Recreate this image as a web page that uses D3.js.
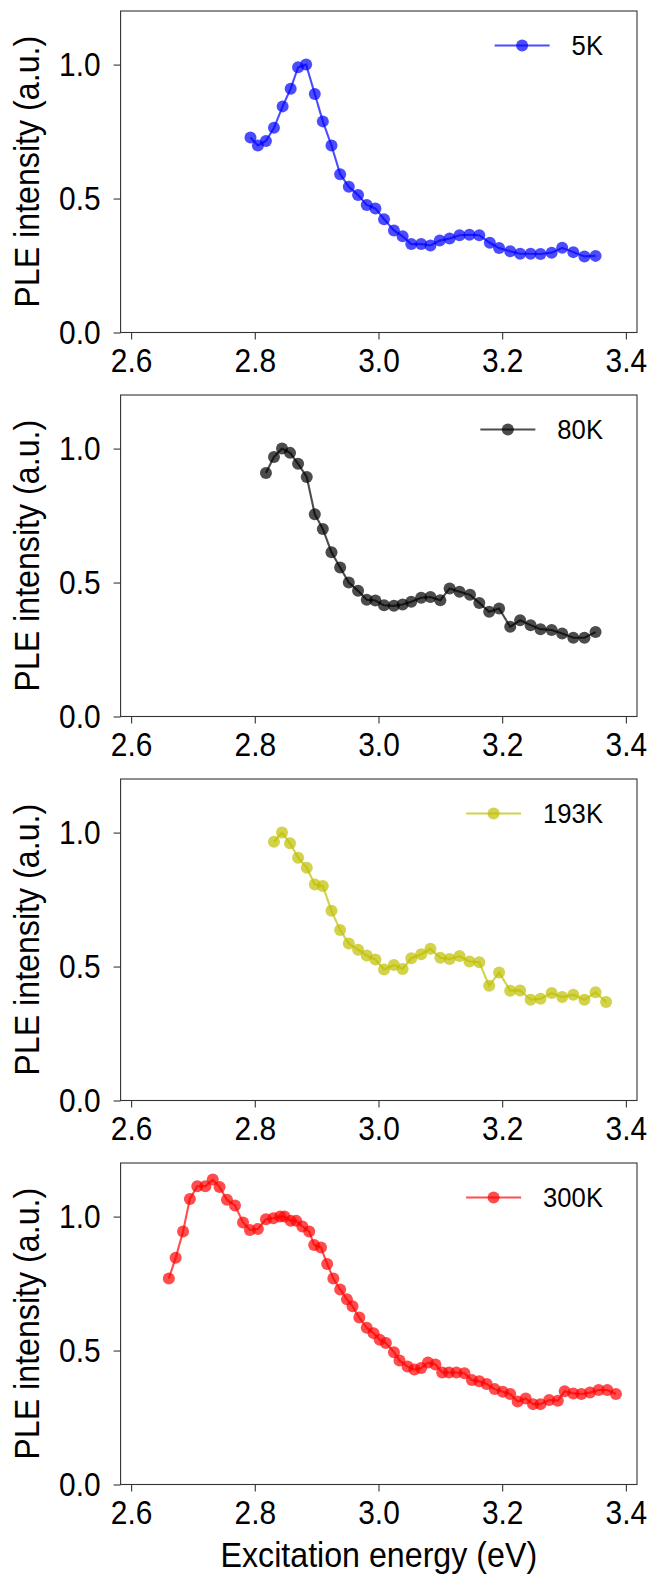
<!DOCTYPE html>
<html>
<head>
<meta charset="utf-8">
<script src="https://cdn.jsdelivr.net/npm/d3@7"></script>
<style>
  body { margin: 0; background: #fff; }
  svg { display: block; }
  text { font-family: "Liberation Sans", Arial, sans-serif; fill: #000; }
</style>
</head>
<body>
<svg width="648" height="1576"></svg>
<script>
// PLE spectra at four temperatures
const xTicks = [2.6, 2.8, 3.0, 3.2, 3.4];
const yTicks = [0.0, 0.5, 1.0];

const x5K = [2.793, 2.805, 2.818, 2.831, 2.845, 2.858, 2.870, 2.883, 2.897, 2.910, 2.924, 2.938, 2.952, 2.967,
  2.981, 2.995, 3.009, 3.025, 3.039, 3.053, 3.069, 3.084, 3.099, 3.115, 3.131, 3.147, 3.163, 3.180,
  3.195, 3.213, 3.229, 3.246, 3.262, 3.280, 3.297, 3.315, 3.333, 3.351];
const y5K = [0.728, 0.698, 0.715, 0.764, 0.844, 0.910, 0.990, 1.000, 0.890, 0.788, 0.698, 0.591, 0.544, 0.513,
  0.476, 0.463, 0.423, 0.381, 0.359, 0.330, 0.330, 0.325, 0.343, 0.351, 0.363, 0.365, 0.363, 0.335,
  0.315, 0.303, 0.294, 0.294, 0.293, 0.298, 0.316, 0.300, 0.284, 0.286];

const x80K = [2.818, 2.831, 2.844, 2.857, 2.870, 2.884, 2.897, 2.910, 2.924, 2.938, 2.952, 2.967, 2.981, 2.995,
  3.009, 3.025, 3.039, 3.053, 3.069, 3.084, 3.100, 3.115, 3.131, 3.148, 3.163, 3.179, 3.195, 3.213,
  3.229, 3.246, 3.262, 3.280, 3.297, 3.315, 3.333, 3.351];
const y80K = [0.909, 0.969, 1.000, 0.984, 0.943, 0.894, 0.755, 0.700, 0.613, 0.556, 0.500, 0.469, 0.436, 0.433,
  0.415, 0.413, 0.418, 0.428, 0.443, 0.446, 0.434, 0.478, 0.466, 0.454, 0.424, 0.391, 0.403, 0.335,
  0.359, 0.341, 0.326, 0.323, 0.310, 0.294, 0.294, 0.315];

const x193K = [2.831, 2.844, 2.857, 2.870, 2.884, 2.897, 2.910, 2.924, 2.938, 2.952, 2.967, 2.981, 2.995, 3.009,
  3.025, 3.039, 3.053, 3.069, 3.084, 3.100, 3.115, 3.131, 3.147, 3.163, 3.179, 3.195, 3.213, 3.229,
  3.246, 3.262, 3.280, 3.297, 3.315, 3.333, 3.351, 3.368];
const y193K = [0.966, 1.000, 0.960, 0.906, 0.869, 0.806, 0.801, 0.708, 0.636, 0.586, 0.563, 0.541, 0.526, 0.489,
  0.506, 0.491, 0.531, 0.546, 0.566, 0.533, 0.528, 0.539, 0.519, 0.516, 0.428, 0.478, 0.410, 0.411,
  0.376, 0.380, 0.401, 0.386, 0.395, 0.376, 0.404, 0.368];

const x300K = [2.661, 2.672, 2.684, 2.695, 2.707, 2.720, 2.732, 2.743, 2.755, 2.768, 2.781, 2.792, 2.805, 2.818,
  2.830, 2.841, 2.848, 2.858, 2.867, 2.877, 2.888, 2.896, 2.907, 2.917, 2.927, 2.938, 2.949, 2.958,
  2.969, 2.981, 2.992, 3.002, 3.012, 3.025, 3.034, 3.047, 3.058, 3.069, 3.080, 3.092, 3.103, 3.114,
  3.126, 3.139, 3.151, 3.163, 3.175, 3.188, 3.201, 3.213, 3.225, 3.238, 3.250, 3.262, 3.276, 3.290,
  3.301, 3.315, 3.328, 3.342, 3.356, 3.370, 3.384];
const y300K = [0.769, 0.846, 0.944, 1.066, 1.113, 1.113, 1.138, 1.110, 1.063, 1.041, 0.978, 0.950, 0.954, 0.990,
  0.994, 1.000, 1.000, 0.984, 0.984, 0.963, 0.944, 0.894, 0.885, 0.823, 0.769, 0.728, 0.691, 0.665,
  0.623, 0.585, 0.565, 0.540, 0.528, 0.494, 0.463, 0.440, 0.429, 0.435, 0.455, 0.448, 0.418, 0.418,
  0.418, 0.415, 0.390, 0.385, 0.375, 0.356, 0.346, 0.338, 0.310, 0.321, 0.300, 0.300, 0.315, 0.313,
  0.348, 0.340, 0.338, 0.343, 0.353, 0.353, 0.338];

const series = [
  { label: '5K', color: '#0000ff', xs: x5K, ys: y5K },
  { label: '80K', color: '#000000', xs: x80K, ys: y80K },
  { label: '193K', color: '#bfbf00', xs: x193K, ys: y193K },
  { label: '300K', color: '#ff0000', xs: x300K, ys: y300K }
];

const svg = d3.select('svg');
const left = 120.6, right = 637;
const panelH = 321.5, panelGap = 384, firstTop = 11;
const tickFont = 32.5, labelFont = 35, legendFont = 27;
const squeeze = 0.92;   // glyphs in the reference are a bit narrower than Liberation Sans

const x = d3.scaleLinear().domain([2.583, 3.418]).range([left, right]);

series.forEach((s, i) => {
  const top = firstTop + i * panelGap;
  const bottom = top + panelH;
  const y = d3.scaleLinear().domain([0, 1.2]).range([bottom, top]);
  const g = svg.append('g').attr('class', 'panel');

  const yAxis = d3.axisLeft(y).tickValues(yTicks).tickFormat(d3.format('.1f'))
    .tickSize(7).tickPadding(13);
  const xAxis = d3.axisBottom(x).tickValues(xTicks).tickFormat(d3.format('.1f'))
    .tickSize(7).tickPadding(9);

  const gy = g.append('g').attr('transform', `translate(${left},0)`).call(yAxis);
  const gx = g.append('g').attr('transform', `translate(0,${bottom})`).call(xAxis);

  g.selectAll('.domain').remove();
  g.selectAll('.tick line').attr('stroke', '#333').attr('stroke-width', 1.1);
  g.selectAll('.tick text')
    .attr('font-size', tickFont)
    .attr('font-family', null)
    .attr('transform', `scale(${squeeze},1)`);
  gy.selectAll('.tick text').attr('x', -(7 + 13) / squeeze).attr('dy', '0.34em');

  g.append('rect')
    .attr('x', left).attr('y', top)
    .attr('width', right - left).attr('height', panelH)
    .attr('fill', 'none').attr('stroke', '#333').attr('stroke-width', 1.1);

  const pts = s.xs.map((v, k) => [v, s.ys[k]]);
  const line = d3.line().x(d => x(d[0])).y(d => y(d[1]));

  g.append('path')
    .attr('d', line(pts))
    .attr('fill', 'none')
    .attr('stroke', s.color)
    .attr('stroke-opacity', 0.7)
    .attr('stroke-width', 2.1);

  g.selectAll('circle.pt')
    .data(pts)
    .enter()
    .append('circle')
    .attr('class', 'pt')
    .attr('cx', d => x(d[0]))
    .attr('cy', d => y(d[1]))
    .attr('r', 6)
    .attr('fill', s.color)
    .attr('fill-opacity', 0.7);

  // legend, upper right without frame
  const legY = top + 34.5;
  const legRight = right - 34;
  const legText = g.append('text')
    .attr('dy', '0.35em')
    .attr('font-size', legendFont)
    .text(s.label);
  const tw = legText.node().getComputedTextLength() * 0.95;
  const textX = legRight - tw;
  legText.attr('transform', `translate(${textX},${legY}) scale(0.95,1)`);
  const hEnd = textX - 22, hStart = hEnd - 55;
  g.append('line')
    .attr('x1', hStart).attr('x2', hEnd)
    .attr('y1', legY).attr('y2', legY)
    .attr('stroke', s.color).attr('stroke-opacity', 0.7).attr('stroke-width', 2.1);
  g.append('circle')
    .attr('cx', (hStart + hEnd) / 2).attr('cy', legY).attr('r', 6)
    .attr('fill', s.color).attr('fill-opacity', 0.7);

  g.append('text')
    .attr('transform', `translate(39,${(top + bottom) / 2}) rotate(-90) scale(${squeeze},1)`)
    .attr('text-anchor', 'middle')
    .attr('font-size', labelFont)
    .text('PLE intensity (a.u.)');
});

svg.append('text')
  .attr('transform', `translate(${(left + right) / 2},1567) scale(${squeeze},1)`)
  .attr('text-anchor', 'middle')
  .attr('font-size', labelFont)
  .text('Excitation energy (eV)');
</script>
</body>
</html>
